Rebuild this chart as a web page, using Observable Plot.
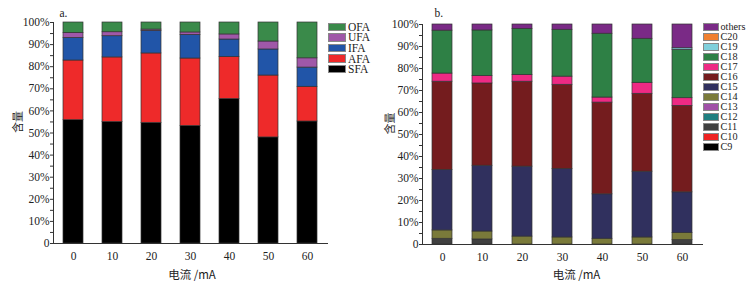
<!DOCTYPE html>
<html>
<head>
<meta charset="utf-8">
<script src="https://cdn.jsdelivr.net/npm/d3@7"></script>
<script src="https://cdn.jsdelivr.net/npm/@observablehq/plot@0.6"></script>
<style>
  body { margin: 0; background: #fff; }
  #wrap { position: relative; width: 754px; height: 287px; overflow: hidden; font-family: "Liberation Serif", serif; color: #222; }
  .chart { position: absolute; top: 0; }
  .legend { position: absolute; }
  .row { position: absolute; left: 0; white-space: nowrap; }
  .sw { position: absolute; left: 0; box-sizing: border-box; border: 1px solid #888; }
  .lb { position: absolute; line-height: 10px; height: 10px; }
</style>
</head>
<body>
<div id="wrap"></div>
<script>
// ---------- data ----------
const currents = [0, 10, 20, 30, 40, 50, 60];

// panel a: fatty-acid groups (%)
const faSeries = ["SFA", "AFA", "IFA", "UFA", "OFA"];
const faColors = ["#000000", "#ee2a2a", "#2155a8", "#a058a8", "#3a8a4a"];
const SFA = [55.8, 55.0, 54.6, 53.2, 65.4, 48.0, 55.2];
const AFA = [27.0, 29.2, 31.4, 30.5, 19.0, 28.0, 15.7];
const IFA = [10.2, 9.6, 10.2, 10.7, 7.9, 11.8, 8.7];
const UFA = [2.3, 1.8, 0.6, 1.1, 2.3, 3.6, 4.2];
const OFA = [4.7, 4.4, 3.2, 4.5, 5.4, 8.6, 16.2];

// panel b: carbon-number (%)
const cSeries = ["C9", "C10", "C11", "C12", "C13", "C14", "C15", "C16", "C17", "C18", "C19", "C20", "others"];
const cColors = ["#000000", "#ee2222", "#404040", "#1f7f80", "#a050a8", "#7a7a3a", "#30305e", "#741c1e", "#ee2a84", "#2e8045", "#80d0dc", "#f08030", "#7a2a86"];
const C9 = [0, 0, 0, 0, 0, 0, 0];
const C10 = [0, 0, 0, 0, 0, 0, 0];
const C11 = [2.6, 2.3, 0, 0, 0, 0, 2.0];
const C12 = [0, 0, 0, 0, 0, 0, 0];
const C13 = [0, 0, 0, 0, 0, 0, 0];
const C14 = [3.8, 3.6, 3.6, 3.2, 2.6, 3.2, 3.2];
const C15 = [27.5, 29.9, 31.8, 31.1, 20.2, 29.9, 18.5];
const C16 = [40.1, 37.4, 38.6, 38.3, 41.7, 35.4, 39.3];
const C17 = [3.7, 3.4, 3.1, 3.7, 2.3, 5.0, 3.5];
const C18 = [19.5, 20.7, 20.9, 21.3, 29.0, 20.0, 22.0];
const C19 = [0, 0, 0, 0, 0, 0, 0.7];
const C20 = [0, 0, 0, 0, 0, 0, 0];
const others = [2.8, 2.7, 2.0, 2.4, 4.2, 6.5, 10.8];

const yTicks = [0, 10, 20, 30, 40, 50, 60, 70, 80, 90, 100];
const yMinor = [5, 15, 25, 35, 45, 55, 65, 75, 85, 95];
const xLabel = "电流 /mA";
const yLabel = "含量";

// ---------- build ----------
function table(series, values) {
  const rows = [];
  series.forEach((s, i) => currents.forEach((c, j) => {
    if (values[i][j] > 0) rows.push({current: c, series: s, value: values[i][j]});
  }));
  return rows;
}
const faTable = table(faSeries, [SFA, AFA, IFA, UFA, OFA]);
const cTable = table(cSeries, [C9, C10, C11, C12, C13, C14, C15, C16, C17, C18, C19, C20, others]);

function makeChart({data, series, colors, width, height, margins, tag, tagDx, tagDy, ylDx, xlDx, xlDy}) {
  return Plot.plot({
    width, height,
    marginTop: margins[0], marginRight: margins[1], marginBottom: margins[2], marginLeft: margins[3],
    style: {fontFamily: "Liberation Serif, serif", fontSize: "11px", color: "#222", background: "transparent", overflow: "visible"},
    x: {type: "band", domain: currents, paddingInner: 0.5, paddingOuter: 0.25},
    y: {domain: [0, 100]},
    color: {domain: series, range: colors},
    marks: [
      Plot.barY(data, {x: "current", y: "value", fill: "series", stroke: "#333", strokeWidth: 0.7}),
      Plot.axisY(yTicks, {tickSize: 3, tickPadding: 1, tickFormat: d => d === 0 ? "0" : d + "%", label: null, stroke: "#333", fill: "#222", fontSize: 11.5, fontFamily: "Liberation Serif"}),
      Plot.axisY(yMinor, {tickSize: 3, tickFormat: () => "", label: null, stroke: "#333"}),
      Plot.axisX(currents, {tickSize: 0, tickPadding: 8, label: null, fill: "#222", fontSize: 11.5, fontFamily: "Liberation Serif"}),
      Plot.frame({anchor: "left", stroke: "#333"}),
      Plot.frame({anchor: "bottom", stroke: "#333"}),
      Plot.text([yLabel], {frameAnchor: "left", dx: ylDx, rotate: -90, lineAnchor: "middle", fontFamily: "Noto Sans CJK SC", fontSize: 11, fill: "#222"}),
      Plot.text([xLabel], {frameAnchor: "bottom", dx: xlDx, dy: xlDy, lineAnchor: "middle", fontFamily: "Noto Sans CJK SC, Liberation Serif", fontSize: 11.5, fill: "#222"}),
      Plot.text([tag], {frameAnchor: "top-left", dx: tagDx, dy: tagDy, lineAnchor: "middle", textAnchor: "start", fontSize: 11.5, fontFamily: "Liberation Serif", fill: "#222"})
    ]
  });
}

const wrap = document.getElementById("wrap");

const left = makeChart({data: faTable, series: faSeries, colors: faColors, width: 330, height: 287,
  margins: [22, 3, 44, 53], tag: "a.", tagDx: 6, tagDy: -9, ylDx: -35, xlDx: 1.5, xlDy: 32});
left.classList.add("chart"); left.style.left = "0px";
wrap.appendChild(left);

const right = makeChart({data: cTable, series: cSeries, colors: cColors, width: 335, height: 287,
  margins: [24, 1, 43, 54], tag: "b.", tagDx: 12, tagDy: -11, ylDx: -32, xlDx: 14, xlDy: 31});
right.classList.add("chart"); right.style.left = "368px";
wrap.appendChild(right);

function legend(series, colors, x, y, sw, sh, step, textDx, fs) {
  const div = document.createElement("div");
  div.className = "legend";
  div.style.left = x + "px"; div.style.top = y + "px";
  const items = series.map((s, i) => ({s, c: colors[i]})).reverse();
  items.forEach((it, k) => {
    const r = document.createElement("div");
    r.className = "row"; r.style.top = (k * step) + "px";
    const b = document.createElement("div");
    b.className = "sw"; b.style.width = sw + "px"; b.style.height = sh + "px"; b.style.background = it.c;
    const t = document.createElement("div");
    t.className = "lb"; t.style.left = textDx + "px"; t.style.top = (sh / 2 - 5) + "px";
    t.style.fontSize = fs + "px"; t.textContent = it.s;
    r.appendChild(b); r.appendChild(t);
    div.appendChild(r);
  });
  wrap.appendChild(div);
}
legend(faSeries, faColors, 327.5, 22.5, 18, 8.5, 10.6, 20.5, 11.5);
legend(cSeries, cColors, 702.5, 22.5, 16, 8.5, 10, 18, 10.2);
</script>
</body>
</html>
